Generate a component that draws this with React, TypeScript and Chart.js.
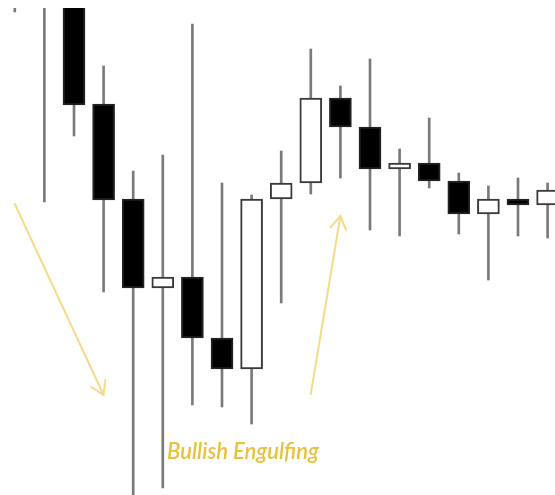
import React, { useEffect, useRef } from "react";
import { Chart, registerables } from "chart.js";

Chart.register(...registerables);

// Candle index (x) and OHLC values
const idx = [0, 1, 2, 3, 4, 5, 6, 7, 8, 9, 10, 11, 12, 13, 14, 15, 16, 17, 18];
const opens = [52.0, 57.0, 52.0, 39.6, 30.1, 21.2, 22.3, 16.2, 13.1, 30.1, 31.7, 40.2, 37.3, 33.1, 33.7, 31.9, 28.6, 30.1, 29.5];
const closes = [51.0, 54.0, 39.5, 30.0, 21.2, 22.3, 16.2, 13.1, 30.1, 31.7, 40.2, 37.3, 33.1, 33.7, 31.9, 28.6, 30.1, 29.5, 31.0];
const highs = [56.0, 60.0, 54.0, 43.4, 32.9, 34.5, 47.6, 31.7, 30.5, 34.9, 45.1, 41.4, 44.1, 35.1, 38.2, 32.7, 31.4, 32.2, 31.7];
const lows = [48.8, 29.8, 36.4, 20.8, -0.5, 1.2, 9.5, 9.3, 7.6, 19.7, 30.6, 32.2, 27.0, 26.4, 31.2, 26.6, 22.0, 26.4, 26.2];

// Annotations (in data units: candle index, price)
const arrowDown = { from: [0, 29.6], to: [3, 10.5] };
const arrowUp = { from: [10, 10.6], to: [11, 28.4] };
const labelText = "Bullish Engulfing";
const labelPos = [5.14, 4.1];

const annotationPlugin = {
  id: "annot",
  afterDatasetsDraw(chart: any) {
    const { ctx, scales } = chart;
    const xs = scales.x;
    const ys = scales.y;
    const drawArrow = (a: any) => {
      const x1 = xs.getPixelForValue(a.from[0]);
      const y1 = ys.getPixelForValue(a.from[1]);
      const x2 = xs.getPixelForValue(a.to[0]);
      const y2 = ys.getPixelForValue(a.to[1]);
      const ang = Math.atan2(y2 - y1, x2 - x1);
      const head = 15;
      const spread = 0.55;
      ctx.save();
      ctx.strokeStyle = "rgba(240, 210, 110, 0.8)";
      ctx.lineWidth = 2;
      ctx.lineCap = "round";
      ctx.beginPath();
      ctx.moveTo(x1, y1);
      ctx.lineTo(x2, y2);
      ctx.moveTo(x2 - head * Math.cos(ang - spread), y2 - head * Math.sin(ang - spread));
      ctx.lineTo(x2, y2);
      ctx.lineTo(x2 - head * Math.cos(ang + spread), y2 - head * Math.sin(ang + spread));
      ctx.stroke();
      ctx.restore();
    };
    drawArrow(arrowDown);
    drawArrow(arrowUp);
    ctx.save();
    ctx.fillStyle = "#e8c23e";
    ctx.font = "italic 600 22px Lato, 'Open Sans', sans-serif";
    ctx.textBaseline = "alphabetic";
    ctx.textAlign = "left";
    ctx.fillText(labelText, xs.getPixelForValue(labelPos[0]), ys.getPixelForValue(labelPos[1]));
    ctx.restore();
  },
};

export default function App() {
  const ref = useRef<HTMLCanvasElement | null>(null);
  useEffect(() => {
    if (!ref.current) return;
    const bull = opens.map((o, i) => closes[i] >= o);
    const chart = new Chart(ref.current, {
      type: "bar",
      data: {
        labels: idx.map(String),
        datasets: [
          {
            label: "body",
            data: idx.map((x, i) => ({ x, y: [opens[i], closes[i]] })) as any,
            backgroundColor: bull.map((b) => (b ? "#ffffff" : "#000000")),
            borderColor: bull.map((b) => (b ? "#3a3a3a" : "#222222")),
            borderWidth: 2,
            borderSkipped: false,
            barThickness: 22,
            grouped: false,
            order: 0,
          } as any,
          {
            label: "wick",
            data: idx.map((x, i) => ({ x, y: [lows[i], highs[i]] })) as any,
            backgroundColor: "#7a7a7a",
            borderWidth: 0,
            barThickness: 2,
            grouped: false,
            order: 1,
          } as any,
        ],
      },
      options: {
        animation: false,
        responsive: false,
        maintainAspectRatio: false,
        layout: { padding: { top: 8, left: 0, right: 0, bottom: 0 } },
        plugins: { legend: { display: false }, tooltip: { enabled: false } },
        scales: {
          x: { type: "linear", display: false, offset: false, min: -0.5, max: 18.25 },
          y: { display: false, min: 0.5, max: 49.2 },
        },
      },
      plugins: [annotationPlugin],
    });
    return () => chart.destroy();
  }, []);
  return (
    <div style={{ position: "fixed", left: 0, top: 0, width: 555, height: 495, background: "#fff" }}>
      <canvas ref={ref} width={555} height={495} style={{ width: 555, height: 495 }} />
    </div>
  );
}
